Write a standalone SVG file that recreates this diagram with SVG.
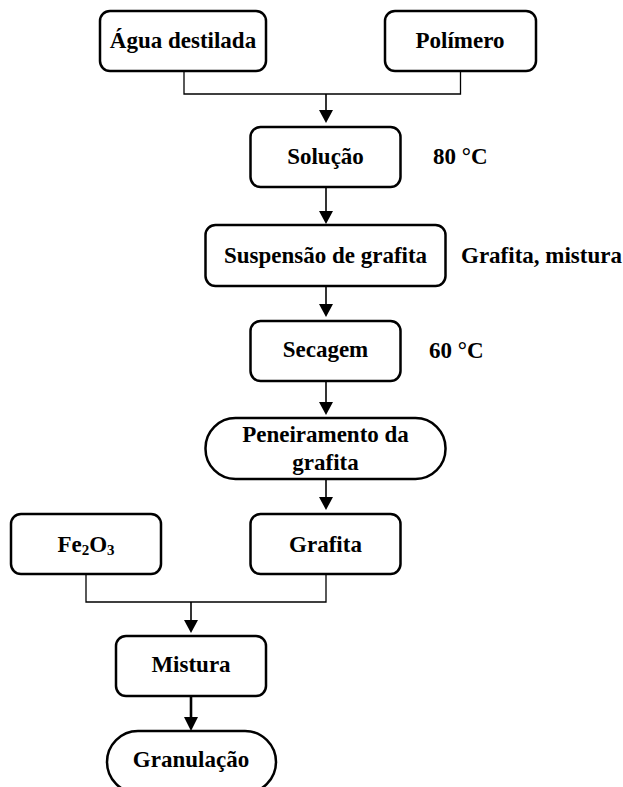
<svg xmlns="http://www.w3.org/2000/svg" width="623" height="787" viewBox="0 0 623 787">
<style>
.box{fill:#fff;stroke:#000;stroke-width:2.5}
.t{font-family:'Liberation Serif','Times New Roman','DejaVu Serif',serif;font-weight:700;font-size:23px;fill:#000}
.c{text-anchor:middle}
.ln{fill:none;stroke:#000;stroke-width:1.3}
.ar{fill:none;stroke:#000;stroke-width:1.6}
</style>
<g id="connectors">
<path class="ln" d="M184,71 V94 H460.5 V71"/>
<path class="ar" d="M326,94 V111"/><path d="M319,110 L333,110 L326,123 Z"/>
<path class="ar" d="M326,187 V212"/><path d="M319,211 L333,211 L326,224 Z"/>
<path class="ar" d="M326,286 V305"/><path d="M319,304 L333,304 L326,317 Z"/>
<path class="ar" d="M326,381 V403"/><path d="M319,402 L333,402 L326,415 Z"/>
<path class="ar" d="M326,479 V498"/><path d="M319,497 L333,497 L326,510 Z"/>
<path class="ln" d="M86,574 V602 H326 V574"/>
<path class="ar" d="M191,602 V621"/><path d="M184,620 L198,620 L191,633 Z"/>
<path fill="none" stroke="#000" stroke-width="2.6" d="M191,696 V718"/><path d="M184,717 L198,717 L191,731 Z"/>
</g>
<g id="n_agua"><rect class="box" x="100" y="11" width="166" height="60" rx="10"/><text class="t c" x="183" y="48">Água destilada</text></g>
<g id="n_polimero"><rect class="box" x="385" y="11" width="151" height="60" rx="10"/><text class="t c" x="460" y="48">Polímero</text></g>
<g id="n_solucao"><rect class="box" x="250.5" y="127" width="150" height="60" rx="10"/><text class="t c" x="325.5" y="164">Solução</text></g>
<g id="l_80"><text class="t" x="433" y="164">80 °C</text></g>
<g id="n_suspensao"><rect class="box" x="205.5" y="225" width="240" height="61" rx="10"/><text class="t c" x="325.5" y="263">Suspensão de grafita</text></g>
<g id="l_grafita_mistura"><text class="t" x="461" y="263">Grafita, mistura</text></g>
<g id="n_secagem"><rect class="box" x="250.5" y="321" width="150" height="60" rx="10"/><text class="t c" x="325.5" y="357">Secagem</text></g>
<g id="l_60"><text class="t" x="429" y="358">60 °C</text></g>
<g id="n_peneiramento"><rect class="box" x="205.5" y="418" width="240" height="61" rx="30"/><text class="t c" x="325.5" y="442">Peneiramento da</text><text class="t c" x="325.5" y="470">grafita</text></g>
<g id="n_fe2o3"><rect class="box" x="11" y="514" width="150" height="60" rx="10"/><text class="t c" x="86" y="552">Fe<tspan font-size="15" dy="3">2</tspan><tspan dy="-3">O</tspan><tspan font-size="15" dy="3">3</tspan></text></g>
<g id="n_grafita"><rect class="box" x="250.5" y="514" width="150" height="60" rx="10"/><text class="t c" x="325.5" y="552">Grafita</text></g>
<g id="n_mistura"><rect class="box" x="116" y="636" width="150" height="60" rx="10"/><text class="t c" x="191" y="672">Mistura</text></g>
<g id="n_granulacao"><rect class="box" x="107" y="731" width="169" height="62" rx="31"/><text class="t c" x="191" y="767">Granulação</text></g>
</svg>
